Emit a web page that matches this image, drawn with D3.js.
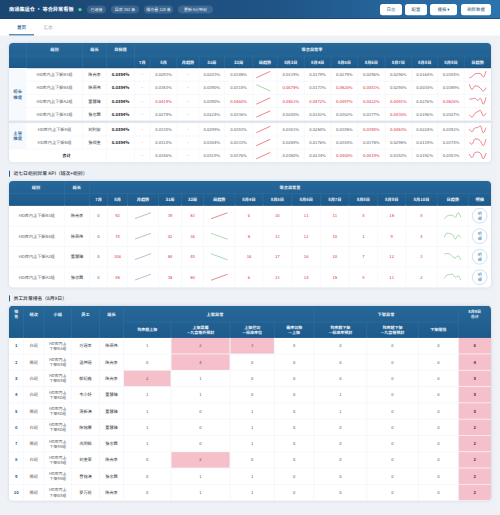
<!DOCTYPE html>
<html><head><meta charset="utf-8">
<script src="https://cdn.jsdelivr.net/npm/d3@7"></script>
<style>html,body{margin:0;padding:0;background:#eef1f6}svg{display:block}
text{font-family:"Noto Sans CJK SC","Noto Sans",sans-serif;text-rendering:geometricPrecision}</style></head><body>
<svg id="c" width="500" height="515"></svg>
<script>
// ---------- data ----------
const pageTitle = "南通集运仓 · 等合异常看板";
const pills = ["已连接","异常 363 条","操作量 124 条","更新 6分钟前"];
const buttons = ["日志","配置","播报 ▾","刷新数据"];
const tabs = ["首页","汇总"];
const section2Title = "近七日组别异常 KPI（班次+组别）";
const section3Title = "员工异常排名（8月9日）";

const t1Head1 = ["组别","组长","目标值","等合异常率"];
const t1Head2 = ["7月","8月","月趋势","31周","32周","周趋势","8月3日","8月4日","8月5日","8月6日","8月7日","8月8日","8月9日","日趋势"];
const t1Dims = ["组长\n维度","主管\n维度"];
const t1Groups = ["HD库内上下架B3组","HD库内上下架B4组","HD库内上下架A2组","HD库内上下架A3组","HD库内上下架A组","HD库内上下架B组","合计"];
const t1Leaders = ["陈光李","陈燕伟","董慧臻","张忠茜","刘利安","张倾金",""];
const t1Target = [0.0394,0.0394,0.0394,0.0394,0.0394,0.0394,null];
const t1Aug = [0.0293,0.0353,0.0419,0.0279,0.0338,0.0318,0.0346];
const t1W31 = [0.0243,0.0390,0.0390,0.0224,0.0299,0.0304,0.0318];
const t1W32 = [0.0345,0.0318,0.0460,0.0336,0.0383,0.0333,0.0376];
const t1Daily = [
 [0.0139,0.0179,0.0279,0.0296,0.0296,0.0164,0.0384],
 [0.0675,0.0173,0.0520,0.0481,0.0294,0.0034,0.0359],
 [0.0461,0.0472,0.0497,0.0422,0.0491,0.0276,0.0526],
 [0.0240,0.0141,0.0302,0.0377,0.0430,0.0196,0.0307],
 [0.0341,0.0258,0.0385,0.0398,0.0453,0.0224,0.0392],
 [0.0259,0.0176,0.0384,0.0375,0.0295,0.0119,0.0374],
 [0.0350,0.0234,0.0400,0.0419,0.0382,0.0192,0.0383]];

const t2Head1 = ["组别","组长","等合异常量"];
const t2Head2 = ["7月","8月","月趋势","31周","32周","周趋势","8月4日","8月5日","8月6日","8月7日","8月8日","8月9日","8月10日","日趋势","明细"];
const t2Groups = ["HD库内上下架B3组","HD库内上下架B4组","HD库内上下架A2组","HD库内上下架A3组"];
const t2Leaders = ["陈光李","陈燕伟","董慧臻","张忠茜"];
const t2Jul = [0,0,0,0];
const t2Aug = [92,78,106,85];
const t2W31 = [39,42,58,35];
const t2W32 = [53,36,48,50];
const t2Daily = [[6,10,11,11,8,15,8],[5,13,12,10,1,9,4],[16,17,16,10,7,12,3],[6,13,14,15,8,11,2]];

const t3Head1 = ["排\n名","班次","小组","员工","组长","上架异常","下架异常","8月9日\n合计"];
const t3Head2 = ["到库超上架","上架票据\n—九宫格外预封","上架拦切\n—标准库位","需库切换\n—上架","到库超下架\n—标准库预封","到库超下架\n—九宫格预封","下架阻挡"];
const t3Rank = [1,2,3,4,5,6,7,8,9,10];
const t3Shift = ["白班","晚班","白班","白班","晚班","白班","晚班","白班","晚班","晚班"];
const t3Group = ["B4","B3","B3","A2","A2","A2","A3","B3","A3","B3"];
const t3Staff = ["方瑶丰","温仲瑶","郁纪鑫","韦小妤","蒲新涛","陈铭康","冼明枫","刘金荣","曹铭涛","罗万轮"];
const t3Leader = ["陈燕伟","陈光李","陈光李","董慧臻","董慧臻","董慧臻","张忠茜","陈光李","张忠茜","陈光李"];
const t3Counts = [
 [1,2,3,0,0,0,0],[0,4,0,0,0,0,0],[2,1,0,0,0,0,0],[1,1,0,0,1,0,0],[1,0,1,0,1,0,0],
 [1,0,1,0,0,0,0],[1,0,1,0,0,0,0],[0,2,0,0,0,0,0],[0,1,1,0,0,0,0],[0,1,1,0,0,0,0]];

// ---------- layout and styles ----------
const C = {red:"#d92f3e",grey:"#565c67",dark:"#1c2028",blue:"#1a5a92",line:"#eef1f7",lineV:"#f1f3f9",pink:"#f5c0ca",headTx:"#f2f6fa",headLn:"#34749f",cellDk:"#33383f",
  spark:{up:"#e2505e",down:"#7ccb8c",flat:"#98a6c2"}};
const edges1 = [9,26.5,82.5,106.5,134.5,150,177,199,224.5,252.7,277.3,304.3,331,357.7,385,411.7,437.7,464.3,491];
const rows1  = [68,81.2,94.5,107.5,120.5,123,136,149,162.3];
const edges2 = [9,64.5,89.5,107.5,127.5,158.5,181.5,203.5,235,263,291.7,320.7,349,377.7,405.7,437.3,468.3,491];
const edges3 = [9,23.5,44,71.5,99.5,123.5,171,230,274.3,314,366.7,418.3,458.3,491];
const svg = d3.select("#c");
const defs = svg.append("defs");
const grad = (id,x2,y2,stops)=>{const g=defs.append("linearGradient").attr("id",id).attr("x1",0).attr("y1",0).attr("x2",x2).attr("y2",y2);
  stops.forEach(([o,c])=>g.append("stop").attr("offset",o).attr("stop-color",c));};
grad("top",1,0,[[0,"#1b4672"],[0.55,"#1f5486"],[1,"#2c74ad"]]);
grad("hd",0,1,[[0,"#276899"],[1,"#1d5a8c"]]);

const txt=(g,x,y,s,o={})=>{
  const lines=String(s).split("\n"), size=o.size||4.2, lh=size*1.28;
  lines.forEach((l,i)=>g.append("text").attr("x",x).attr("y",y+(i-(lines.length-1)/2)*lh+size*0.36)
    .attr("text-anchor",o.anchor||"middle").attr("font-size",size).attr("font-weight",o.weight||400)
    .attr("fill",o.fill||C.grey).text(l));
};
const rect=(g,x,y,w,h,fill,o={})=>g.append("rect").attr("x",x).attr("y",y).attr("width",w).attr("height",h).attr("fill",fill).attr("rx",o.rx||0);
const vline=(g,x,y0,y1,c)=>g.append("line").attr("x1",x).attr("x2",x).attr("y1",y0).attr("y2",y1).attr("stroke",c).attr("stroke-width",.5);
const hline=(g,x0,x1,y,c)=>g.append("line").attr("x1",x0).attr("x2",x1).attr("y1",y).attr("y2",y).attr("stroke",c).attr("stroke-width",.5);
const colScale=e=>d3.scaleOrdinal().domain(d3.range(e.length)).range(e);
const mid=(s,a,b)=>(s(a)+s(b))/2;
const pct=v=>v.toFixed(4)+"%";

function spark(g,vals,x0,x1,y0,y1,color){
  const xs=d3.scalePoint().domain(d3.range(vals.length)).range([x0,x1]);
  const ys=d3.scaleLinear().domain(d3.extent(vals)).range([y1,y0]);
  g.append("path").attr("fill","none").attr("stroke",color).attr("stroke-width",.7)
    .attr("d",d3.line().x((d,i)=>xs(i)).y(d=>ys(d)).curve(vals.length>2?d3.curveMonotoneX:d3.curveLinear)(vals));
}
function card(x,y,w,h,id){
  svg.append("rect").attr("x",x).attr("y",y).attr("width",w).attr("height",h).attr("rx",4).attr("fill","#fff")
    .style("filter","drop-shadow(0 0.7px 1.5px rgba(90,120,160,.22))");
  defs.append("clipPath").attr("id",id).append("rect").attr("x",x).attr("y",y).attr("width",w).attr("height",h).attr("rx",4);
  return svg.append("g").attr("clip-path",`url(#${id})`);
}

// ---------- top bar ----------
rect(svg,0,0,500,19,"url(#top)");
rect(svg,0,18.4,500,.6,"#173d63");
txt(svg,9,9.4,pageTitle,{anchor:"start",size:5.2,weight:700,fill:"#fff"});
svg.append("circle").attr("cx",80).attr("cy",9.6).attr("r",1.7).attr("fill","#46dc7e");
const pillEdges=[[87,106],[111,139],[144,173],[178,213]];
pills.forEach((p,i)=>{const [a,b]=pillEdges[i];
  rect(svg,a,5.4,b-a,8.2,"rgba(255,255,255,.14)",{rx:4});
  txt(svg,(a+b)/2,9.5,p,{size:4,fill:"#e4edf5"});});
const btnEdges=[[380,402],[405,427],[430,457],[461,491]];
buttons.forEach((p,i)=>{const [a,b]=btnEdges[i];
  rect(svg,a,4,b-a,11.3,"#fff",{rx:2.5});
  txt(svg,(a+b)/2,9.8,p,{size:4.4,fill:"#23527c"});});

// ---------- tabs ----------
rect(svg,0,19,500,16.5,"#fff");
txt(svg,21.5,27.5,tabs[0],{size:4.6,fill:"#2c6a9e",weight:500});
txt(svg,48,27.5,tabs[1],{size:4.6,fill:"#97a1ae"});
rect(svg,9,34,25,1.5,"#5b8fb8");

// ---------- table 1 ----------
{
  const top=43,h1=56,h2=68,x=colScale(edges1),r=colScale(rows1);
  const g=card(9,top,482,162.3-top,"cl1");
  rect(g,9,top,482,h2-top,"url(#hd)");
  rect(g,9,h2-.5,482,.7,"#185080");
  hline(g,9,491,h1,C.headLn);
  [1,2,3,4].forEach(i=>vline(g,x(i),top,h2,C.headLn));
  d3.range(5,18).forEach(i=>vline(g,x(i),h1,h2,C.headLn));
  txt(g,mid(x,1,2),49.6,t1Head1[0],{fill:C.headTx,weight:700});
  txt(g,mid(x,2,3),49.6,t1Head1[1],{fill:C.headTx,weight:700});
  txt(g,mid(x,3,4),49.6,t1Head1[2],{fill:C.headTx,weight:700});
  txt(g,312,49.6,t1Head1[3],{fill:C.headTx,weight:700});
  t1Head2.forEach((t,i)=>txt(g,mid(x,i+4,i+5),62,t,{fill:C.headTx,weight:700}));
  rect(g,9,68,17.5,52.5,"#f7fafd"); rect(g,9,123,17.5,26,"#f7fafd");
  txt(g,17.7,94.3,t1Dims[0],{fill:C.blue,weight:500,size:4.4});
  txt(g,17.7,136,t1Dims[1],{fill:C.blue,weight:500,size:4.4});
  rect(g,9,r(4),482,r(5)-r(4),"#dfe6ef");
  const rowIdx=[0,1,2,3,5,6,7];
  t1Groups.forEach((name,k)=>{
    const y0=r(rowIdx[k]),y1=r(rowIdx[k]+1),cy=(y0+y1)/2;
    if(k<6&&k!==3&&k!==5)hline(g,26.5,491,y1,C.line);
    if(k===5)hline(g,9,491,y1,C.line);
    d3.range(2,18).forEach(i=>{if(!(k===6&&i===2))vline(g,x(i),y0,y1,C.lineV);});
    if(k===6){txt(g,mid(x,1,3),cy,name,{weight:700,fill:C.dark});}
    else{
      txt(g,mid(x,1,2),cy,name);
      txt(g,mid(x,2,3),cy,t1Leaders[k],{fill:C.cellDk});
      txt(g,mid(x,3,4),cy,pct(t1Target[k]),{weight:700,fill:C.dark});
    }
    const thr=t1Target[0], col=v=>v>thr?C.red:C.grey;
    txt(g,mid(x,4,5),cy,"-",{fill:C.red});
    txt(g,mid(x,5,6),cy,pct(t1Aug[k]),{fill:col(t1Aug[k])});
    txt(g,mid(x,6,7),cy,"-");
    txt(g,mid(x,7,8),cy,pct(t1W31[k]));
    txt(g,mid(x,8,9),cy,pct(t1W32[k]),{fill:col(t1W32[k])});
    const wk=[t1W31[k],t1W32[k]];
    spark(g,wk,x(9)+3.5,x(10)-7,cy-3.2,cy+3.2,wk[1]>=wk[0]?C.spark.up:C.spark.down);
    t1Daily[k].forEach((v,j)=>txt(g,mid(x,10+j,11+j),cy,pct(v),{fill:col(v)}));
    spark(g,t1Daily[k],x(17)+5,x(18)-5,cy-3.6,cy+3.2,C.spark.up);
  });
}

// ---------- section titles ----------
const secTitle=(y,s)=>{rect(svg,9,y-3,1,6,"#1f5f96");txt(svg,13.5,y,s,{anchor:"start",size:4.8,weight:500,fill:"#2c3542"});};
secTitle(173.7,section2Title);
secTitle(298.4,section3Title);

// ---------- table 2 ----------
{
  const top=181,h1=193.5,h2=205.5,x=colScale(edges2);
  const y=d3.scaleLinear().domain([0,4]).range([h2,287.5]);
  const g=card(9,top,482,287.5-top,"cl2");
  rect(g,9,top,482,h2-top,"url(#hd)");
  rect(g,9,h2-.5,482,.7,"#185080");
  hline(g,9,491,h1,C.headLn);
  [1,2].forEach(i=>vline(g,x(i),top,h2,C.headLn));
  d3.range(3,17).forEach(i=>vline(g,x(i),h1,h2,C.headLn));
  txt(g,36,187.4,t2Head1[0],{fill:C.headTx,weight:700});
  txt(g,76.8,187.4,t2Head1[1],{fill:C.headTx,weight:700});
  txt(g,290,187.4,t2Head1[2],{fill:C.headTx,weight:700});
  t2Head2.forEach((t,i)=>txt(g,mid(x,i+2,i+3),199.6,t,{fill:C.headTx,weight:700}));
  t2Groups.forEach((name,k)=>{
    const y0=y(k),y1=y(k+1),cy=(y0+y1)/2;
    if(k<3)hline(g,9,491,y1,C.line);
    d3.range(1,17).forEach(i=>vline(g,x(i),y0,y1,C.lineV));
    txt(g,mid(x,0,1),cy,name);
    txt(g,mid(x,1,2),cy,t2Leaders[k],{fill:C.cellDk});
    txt(g,mid(x,2,3),cy,t2Jul[k]);
    txt(g,mid(x,3,4),cy,t2Aug[k],{fill:C.red});
    spark(g,[t2Jul[k],t2Aug[k]],x(4)+7.5,x(5)-7.5,cy-3,cy+2.8,C.spark.flat);
    txt(g,mid(x,5,6),cy,t2W31[k],{fill:C.red});
    txt(g,mid(x,6,7),cy,t2W32[k],{fill:C.red});
    const wk=[t2W31[k],t2W32[k]];
    spark(g,wk,x(7)+7.5,x(8)-7.5,cy-3,cy+3,wk[1]>=wk[0]?C.spark.up:C.spark.down);
    t2Daily[k].forEach((v,j)=>txt(g,mid(x,8+j,9+j),cy,v,{fill:v>1?C.red:C.grey}));
    spark(g,t2Daily[k],x(15)+7,x(16)-7.5,cy-3.2,cy+3,C.spark.down);
    const cx=mid(x,16,17);
    g.append("circle").attr("cx",cx).attr("cy",cy).attr("r",7.4).attr("fill","#fff").attr("stroke","#bcd2e8").attr("stroke-width",.7);
    txt(g,cx,cy,"明\n细",{fill:"#3573ab",size:4});
  });
}

// ---------- table 3 ----------
{
  const top=305.7,h1=322,h2=337.7,x=colScale(edges3);
  const y=d3.scaleLinear().domain([0,10]).range([h2,500.7]);
  const g=card(9,top,482,500.7-top,"cl3");
  rect(g,9,top,482,h2-top,"url(#hd)");
  rect(g,9,h2-.5,482,.7,"#185080");
  hline(g,123.5,458.3,h1,C.headLn);
  [1,2,3,4,5,9,12].forEach(i=>vline(g,x(i),top,h2,C.headLn));
  d3.range(6,12).filter(i=>i!==9).forEach(i=>vline(g,x(i),h1,h2,C.headLn));
  d3.range(5).forEach(i=>txt(g,mid(x,i,i+1),314,t3Head1[i],{fill:C.headTx,weight:700,size:i?4.2:4}));
  txt(g,215,314,t3Head1[5],{fill:C.headTx,weight:700});
  txt(g,386,314,t3Head1[6],{fill:C.headTx,weight:700});
  txt(g,mid(x,12,13),314,t3Head1[7],{fill:C.headTx,weight:700,size:4});
  t3Head2.forEach((t,i)=>txt(g,mid(x,5+i,6+i),330,t,{fill:C.headTx,weight:700,size:4}));
  t3Rank.forEach((rk,k)=>{
    const y0=y(k),y1=y(k+1),cy=(y0+y1)/2;
    txt(g,mid(x,0,1),cy,rk,{fill:C.blue,weight:700});
    txt(g,mid(x,1,2),cy,t3Shift[k]);
    txt(g,mid(x,2,3),cy,`HD库内上\n下架${t3Group[k]}组`,{size:4});
    txt(g,mid(x,3,4),cy,t3Staff[k],{fill:C.cellDk});
    txt(g,mid(x,4,5),cy,t3Leader[k],{fill:C.cellDk});
    t3Counts[k].forEach((v,j)=>{
      if(v>=2)rect(g,x(5+j)+.3,y0+.3,x(6+j)-x(5+j)-.6,y1-y0-.6,C.pink);
      txt(g,mid(x,5+j,6+j),cy,v,{fill:v>=2?"#6a4550":C.grey});
    });
    rect(g,x(12)+.3,y0+.3,x(13)-x(12)-.3,y1-y0-.6,C.pink);
    txt(g,mid(x,12,13),cy,d3.sum(t3Counts[k]),{fill:"#4a2c36",weight:700});
    hline(g,9,491,y1,C.line);
    d3.range(1,13).forEach(i=>vline(g,x(i),y0,y1,i>=5?"#eceef9":C.lineV));
  });
}
</script></body></html>
